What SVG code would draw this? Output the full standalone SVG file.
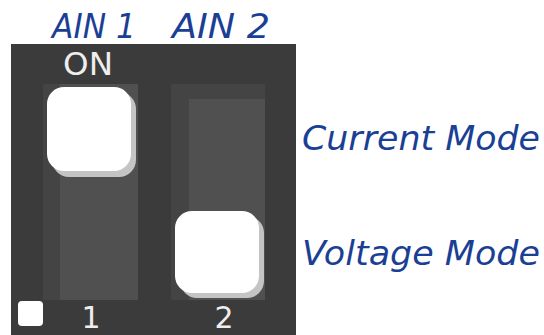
<svg xmlns="http://www.w3.org/2000/svg" width="544" height="335" viewBox="0 0 544 335">
<style>
.lbl{font-family:"DejaVu Sans",Verdana,sans-serif;font-style:italic;font-size:33px;fill:#1b3f94}
.wt{font-family:"DejaVu Sans",Verdana,sans-serif;font-size:32px;fill:#eeeeee;text-anchor:middle}
.num{font-size:30px}
.outer{fill:#444444}
.inner{fill:#505050}
.knob{fill:#ffffff}
.shadow{fill:#c4c4c4}
</style>
<rect width="544" height="335" fill="#ffffff"/>
<rect x="11" y="44" width="285" height="291" fill="#3b3b3b"/>
<g id="ain-labels">
<text class="lbl" x="52" y="38" textLength="84" lengthAdjust="spacingAndGlyphs">AIN 1</text>
<text class="lbl" x="172" y="38" textLength="98" lengthAdjust="spacingAndGlyphs">AIN 2</text>
</g>
<g id="switch1">
<rect class="outer" x="43" y="84" width="95" height="216"/>
<rect class="inner" x="60" y="84" width="78" height="216"/>
<rect class="shadow" x="52" y="92" width="84" height="85" rx="17"/>
<rect class="knob" x="47" y="87" width="84" height="84" rx="17"/>
<text class="wt" x="88" y="75" textLength="50" lengthAdjust="spacingAndGlyphs">ON</text>
<text class="wt num" x="91" y="328">1</text>
</g>
<g id="switch2">
<rect class="outer" x="171" y="84" width="94" height="216"/>
<rect class="inner" x="189" y="99" width="76" height="201"/>
<rect class="shadow" x="180" y="216" width="84" height="82" rx="17"/>
<rect class="knob" x="175" y="211" width="84" height="82" rx="17"/>
<text class="wt num" x="224" y="328">2</text>
</g>
<rect id="marker" x="18" y="301" width="25" height="25" rx="4" fill="#ffffff"/>
<g id="mode-labels">
<text class="lbl" x="302" y="150" textLength="238" lengthAdjust="spacingAndGlyphs">Current Mode</text>
<text class="lbl" x="302" y="265" textLength="238" lengthAdjust="spacingAndGlyphs">Voltage Mode</text>
</g>
</svg>
